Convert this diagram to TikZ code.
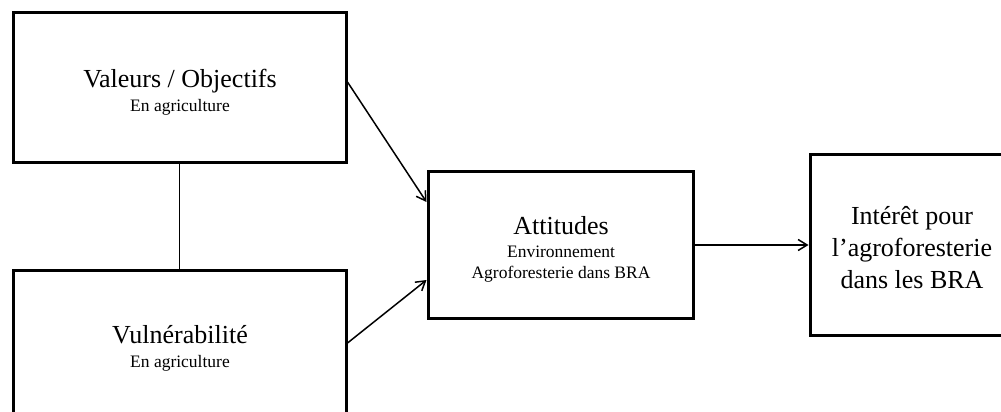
\documentclass[tikz,border=0pt]{standalone}
\usepackage{fontspec}
\setmainfont{Liberation Serif}
\usetikzlibrary{arrows.meta}
\begin{document}
\begin{tikzpicture}[x=1pt,y=-1pt,
  box/.style={draw, line width=3pt, rectangle, inner sep=0pt},
  title/.style={anchor=base, inner sep=0pt, font=\fontsize{26}{32}\selectfont},
  sub/.style={anchor=base, inner sep=0pt, font=\fontsize{17.5}{21}\selectfont},
  link/.style={line width=1.8pt},
  arr/.style={line width=1.5pt, -{Straight Barb[length=9pt,width=11pt,line width=1.5pt]}}]
\useasboundingbox (0,0) rectangle (1001,412);
\clip (0,0) rectangle (1001,412);

% boxes
\node[box, minimum width=333pt, minimum height=149pt] (val) at (179.5,87.5) {};
\node[box, minimum width=333pt, minimum height=149pt] (vul) at (179.5,345) {};
\node[box, minimum width=265pt, minimum height=147pt] (att) at (560.5,245) {};
\node[box, minimum width=204pt, minimum height=181pt] (int) at (912,245) {};

% texts
\node[title] (valA) at (180,87) {Valeurs / Objectifs};
\node[sub]   (valB) at (180,111) {En agriculture};
\node[title] (vulA) at (180,343) {Vulnérabilité};
\node[sub]   (vulB) at (180,367) {En agriculture};
\node[title] (attA) at (561,234) {Attitudes};
\node[sub]   (attB) at (561,257) {Environnement};
\node[sub]   (attC) at (561,278) {Agroforesterie dans BRA};
\node[title] (intA) at (912,224) {Intérêt pour};
\node[title] (intB) at (912,256) {l’agroforesterie};
\node[title] (intC) at (912,288) {dans les BRA};

% connectors
\draw[link] (val.south) -- (vul.north);
\draw[arr] ([yshift=5.5pt]val.east) -- ([yshift=43pt]att.west);
\draw[arr] ([yshift=2pt]vul.east) -- ([yshift=-35pt]att.west);
\draw[arr] (att.east) -- (int.west);
\end{tikzpicture}
\end{document}
